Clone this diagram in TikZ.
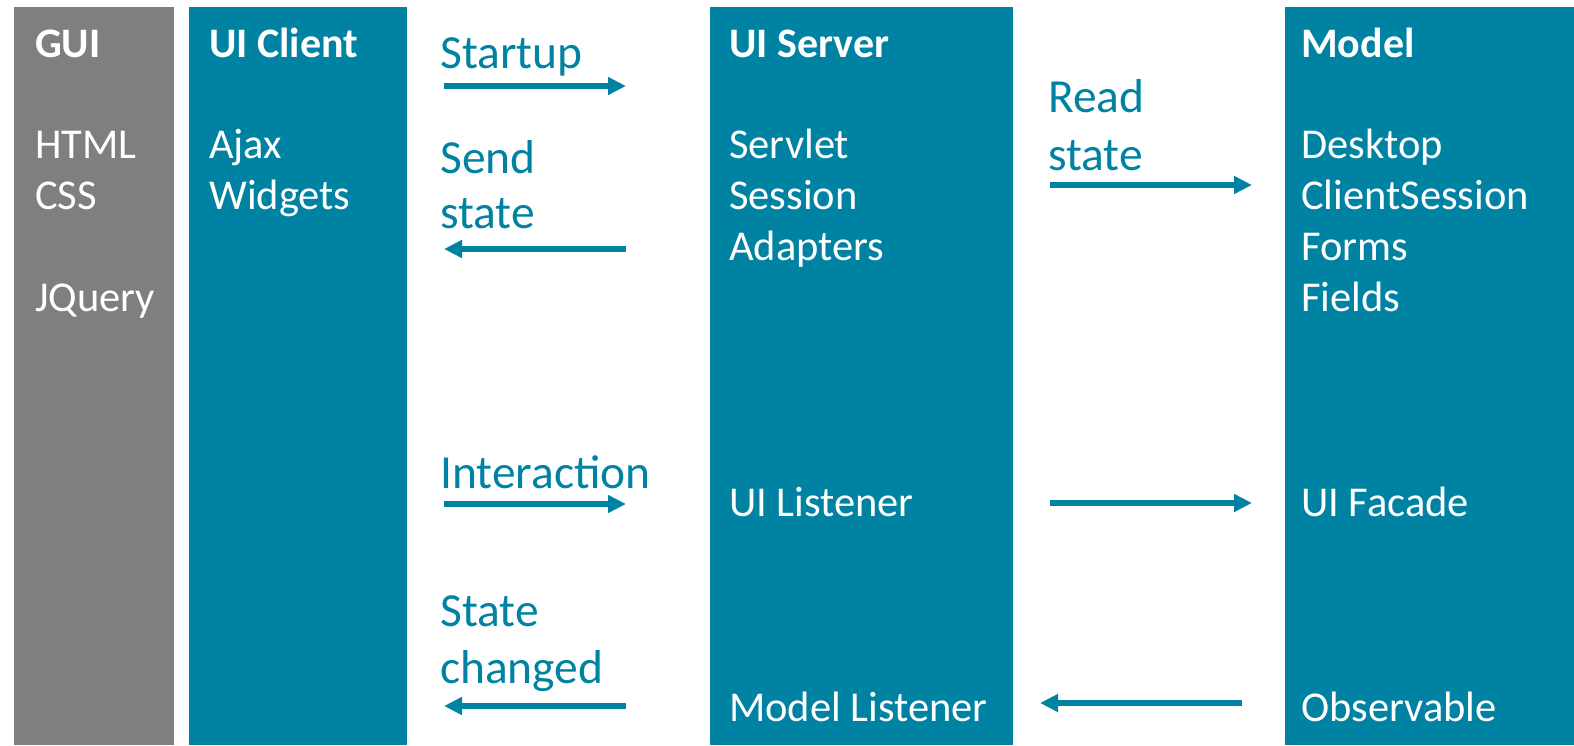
\documentclass[tikz,border=0pt]{standalone}
\usepackage{fontspec}
\setmainfont{Carlito}
\usetikzlibrary{arrows.meta}
\definecolor{uiteal}{RGB}{0,131,163}
\definecolor{guigray}{RGB}{127,127,127}
\tikzset{
	head/.style={anchor=base west, inner sep=0pt, text=white, font=\fontsize{42}{51}\selectfont\bfseries},
	item/.style={anchor=base west, inner sep=0pt, text=white, font=\fontsize{42.5}{51}\selectfont},
	lbl/.style={anchor=base west, inner sep=0pt, text=uiteal, font=\fontsize{47.5}{57}\selectfont},
	flow/.style={draw=uiteal, line width=6pt, -{Triangle[length=18pt,width=17pt]}}
}

\begin{document}
\begin{tikzpicture}[x=1pt,y=-1pt]
		%%%%% START %%%%%
		\useasboundingbox (0,0) rectangle (1574,745);
		
		\fill[guigray] (14,7) rectangle (174,745);
		\fill[uiteal] (189,7) rectangle (407,745);
		\fill[uiteal] (710,7) rectangle (1013,745);
		\fill[uiteal] (1285,7) rectangle (1574,745);
		
		\node[head] (gui) at (35,57) {GUI};
		\node[item] (html) at (35,158) {HTML};
		\node[item] (css) at (35,209) {CSS};
		\node[item] (jquery) at (35,311) {JQuery};
		
		\node[head] (client) at (209,57) {UI Client};
		\node[item] (ajax) at (209,158) {Ajax};
		\node[item] (widgets) at (209,209) {Widgets};
		
		\node[head] (server) at (729,57) {UI Server};
		\node[item] (servlet) at (729,158) {Servlet};
		\node[item] (session) at (729,209) {Session};
		\node[item] (adapters) at (729,260) {Adapters};
		\node[item] (uilistener) at (729,516) {UI Listener};
		\node[item] (modellistener) at (729,721) {Model Listener};
		
		\node[head] (model) at (1301,57) {Model};
		\node[item] (desktop) at (1301,158) {Desktop};
		\node[item] (clientsession) at (1301,209) {ClientSession};
		\node[item] (forms) at (1301,260) {Forms};
		\node[item] (fields) at (1301,311) {Fields};
		\node[item] (uifacade) at (1301,516) {UI Facade};
		\node[item] (observable) at (1301,721) {Observable};
		
		\node[lbl] (startup) at (440,68) {Startup};
		\node[lbl] (send) at (440,173) {Send};
		\node[lbl] (sendstate) at (440,228) {state};
		\node[lbl] (read) at (1048,112) {Read};
		\node[lbl] (readstate) at (1048,170) {state};
		\node[lbl] (interaction) at (440,488) {Interaction};
		\node[lbl] (statechg) at (440,626) {State};
		\node[lbl] (changed) at (440,683) {changed};
		
		\coordinate (su-a) at (444,86);
		\coordinate (su-b) at (626,86);
		\coordinate (ss-a) at (626,249);
		\coordinate (ss-b) at (444,249);
		\coordinate (rs-a) at (1050,185);
		\coordinate (rs-b) at (1252,185);
		\coordinate (ia-a) at (444,504);
		\coordinate (ia-b) at (626,504);
		\coordinate (uf-a) at (1050,503);
		\coordinate (uf-b) at (1252,503);
		\coordinate (sc-a) at (626,706);
		\coordinate (sc-b) at (444,706);
		\coordinate (ob-a) at (1242,703);
		\coordinate (ob-b) at (1040,703);
		
		\draw[flow] (su-a) -- (su-b);
		\draw[flow] (ss-a) -- (ss-b);
		\draw[flow] (rs-a) -- (rs-b);
		\draw[flow] (ia-a) -- (ia-b);
		\draw[flow] (uf-a) -- (uf-b);
		\draw[flow] (sc-a) -- (sc-b);
		\draw[flow] (ob-a) -- (ob-b);
		
		%%%%% END %%%%%
\end{tikzpicture}
\end{document}
